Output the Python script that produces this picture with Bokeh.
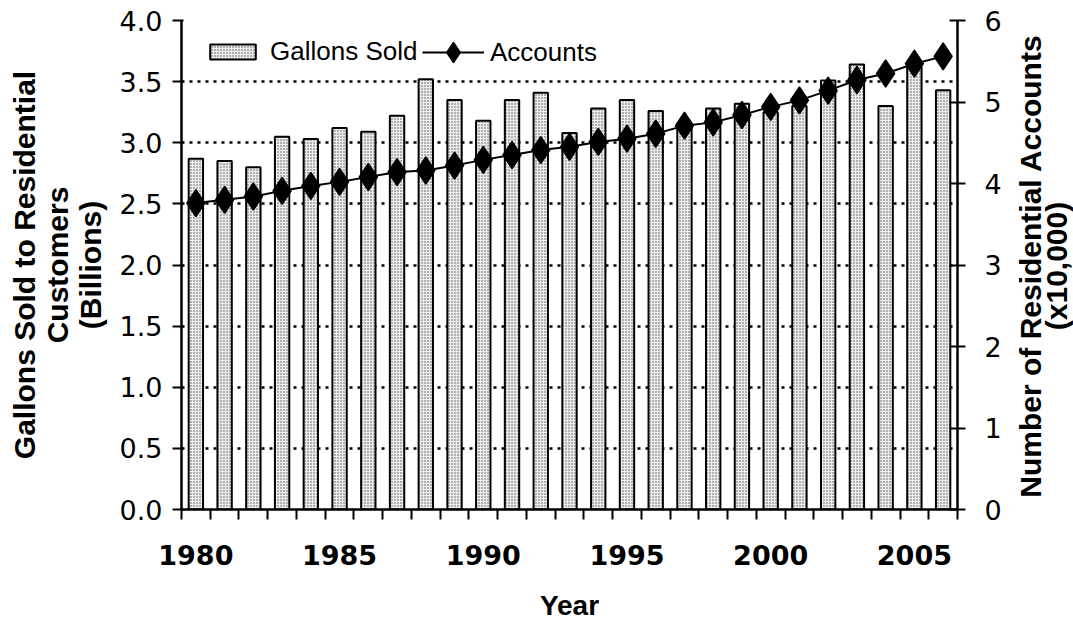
from math import pi
from bokeh.plotting import figure
from bokeh.layouts import row
from bokeh.models import (Range1d, LinearAxis, FixedTicker, PrintfTickFormatter,
                          Legend, LegendItem)
from bokeh.core.properties import value
from bokeh.embed import file_html
from bokeh.resources import INLINE

years = list(range(1980, 2007))
gallons = [2.87, 2.85, 2.80, 3.05, 3.03, 3.12, 3.09, 3.22, 3.52, 3.35,
           3.18, 3.35, 3.41, 3.08, 3.28, 3.35, 3.26, 3.15, 3.28, 3.32,
           3.25, 3.30, 3.51, 3.64, 3.30, 3.62, 3.43]
accounts = [3.76, 3.80, 3.84, 3.91, 3.97, 4.02, 4.08, 4.14, 4.16, 4.22,
            4.29, 4.35, 4.41, 4.45, 4.51, 4.55, 4.61, 4.71, 4.75, 4.84,
            4.94, 5.02, 5.14, 5.27, 5.35, 5.47, 5.56]
left_ticks = [0.0, 0.5, 1.0, 1.5, 2.0, 2.5, 3.0, 3.5, 4.0]
right_ticks = [0, 1, 2, 3, 4, 5, 6]
year_ticks = [1980, 1985, 1990, 1995, 2000, 2005]
right_title = ["Number of Residential Accounts", "(x10,000)"]

LABEL_FONT = "Liberation Sans"

p = figure(width=1007, height=623, output_backend="svg", toolbar_location=None,
           x_range=Range1d(1979.5, 2006.5), y_range=Range1d(0, 4),
           min_border_left=181, min_border_right=50, min_border_top=20,
           min_border_bottom=113)
p.outline_line_color = None
p.background_fill_color = "white"
p.extra_y_ranges = {"acc": Range1d(0, 6)}

# bars
r_bar = p.vbar(x=years, top=gallons, width=0.5, bottom=0,
               fill_color="#ececec", line_color="black", line_width=2,
               hatch_pattern="dot", hatch_color="#555555", hatch_scale=3,
               hatch_weight=1)
# accounts line
r_line = p.line(years, accounts, line_color="black", line_width=2, y_range_name="acc")
r_sc = p.scatter(years, accounts, marker="diamond", size=27, fill_color="black",
                 line_color="black", line_width=1.5, y_range_name="acc")

# grid
p.xgrid.grid_line_color = None
p.ygrid.ticker = FixedTicker(ticks=left_ticks)
p.ygrid.grid_line_color = "black"
p.ygrid.grid_line_dash = "3 5"
p.ygrid.grid_line_width = 2.5

# left axis
ya = p.yaxis[0]
ya.ticker = FixedTicker(ticks=left_ticks)
ya.formatter = PrintfTickFormatter(format="%.1f")
ya.major_label_text_font = "DejaVu Sans"
ya.major_label_text_font_size = "27px"
ya.major_label_text_color = "black"
ya.major_tick_out = 9
ya.major_tick_in = 2
ya.major_tick_line_width = 2
ya.minor_tick_line_color = None
ya.axis_line_width = 2.5
ya.major_label_standoff = 10
ya.axis_label = "Gallons Sold to Residential\nCustomers\n(Billions)"
ya.axis_label_text_font = LABEL_FONT
ya.axis_label_text_font_style = "bold"
ya.axis_label_text_font_size = "30px"
ya.axis_label_text_color = "black"
ya.axis_label_text_line_height = 1.0
ya.axis_label_standoff = 10

# bottom axis
xa = p.xaxis[0]
xa.ticker = FixedTicker(ticks=year_ticks, minor_ticks=[y - 0.5 for y in years] + [2006.5])
xa.major_tick_out = 0
xa.major_tick_in = 0
xa.minor_tick_out = 10
xa.minor_tick_in = 0
xa.minor_tick_line_width = 2
xa.minor_tick_line_color = "black"
xa.axis_line_width = 2.5
xa.major_label_text_font = "DejaVu Sans"
xa.major_label_text_font_style = "bold"
xa.major_label_text_font_size = "27px"
xa.major_label_text_color = "black"
xa.major_label_standoff = 25
xa.axis_label = "Year"
xa.axis_label_text_font = LABEL_FONT
xa.axis_label_text_font_style = "bold"
xa.axis_label_text_font_size = "28px"
xa.axis_label_text_color = "black"
xa.axis_label_standoff = 22

# right axis
ra = LinearAxis(y_range_name="acc", ticker=FixedTicker(ticks=right_ticks))
ra.major_label_text_font = "DejaVu Sans"
ra.major_label_text_font_size = "27px"
ra.major_label_text_color = "black"
ra.major_tick_out = 8
ra.major_tick_in = 8
ra.major_tick_line_width = 2
ra.minor_tick_line_color = None
ra.axis_line_width = 2.5
ra.major_label_standoff = 19
p.add_layout(ra, "right")

common = dict(orientation="horizontal", border_line_color=None,
              background_fill_alpha=0, label_text_font=LABEL_FONT,
              label_text_font_size="26px", label_text_color="black",
              padding=6, spacing=0)
leg1 = Legend(items=[LegendItem(label="Gallons Sold", renderers=[r_bar])],
              location=(23, 442), glyph_width=57, glyph_height=19,
              label_standoff=9, **common)
leg2 = Legend(items=[LegendItem(label="Accounts", renderers=[r_line, r_sc])],
              location=(241, 432), glyph_width=62, glyph_height=50,
              label_standoff=6, **common)
p.add_layout(leg1)
p.add_layout(leg2)

# right-hand axis title (reads bottom to top), drawn in a narrow strip whose
# frame is aligned with the main plot frame (page y 20 .. 510)
q = figure(width=66, height=623, output_backend="svg", toolbar_location=None,
           x_range=Range1d(1007, 1073), y_range=Range1d(510, 20),
           x_axis_location=None, y_axis_location=None,
           min_border=0, min_border_left=0, min_border_right=0,
           min_border_top=20, min_border_bottom=113)
q.outline_line_color = None
q.xgrid.grid_line_color = None
q.ygrid.grid_line_color = None
q.text(x=[1030, 1056], y=[266, 266], text=right_title, angle=pi / 2,
       text_align="center", text_baseline="middle",
       text_font=value(LABEL_FONT), text_font_style="bold",
       text_font_size="30px", text_color="black")

layout = row(p, q, spacing=0)
open("out.html", "w").write(file_html(layout, INLINE))
